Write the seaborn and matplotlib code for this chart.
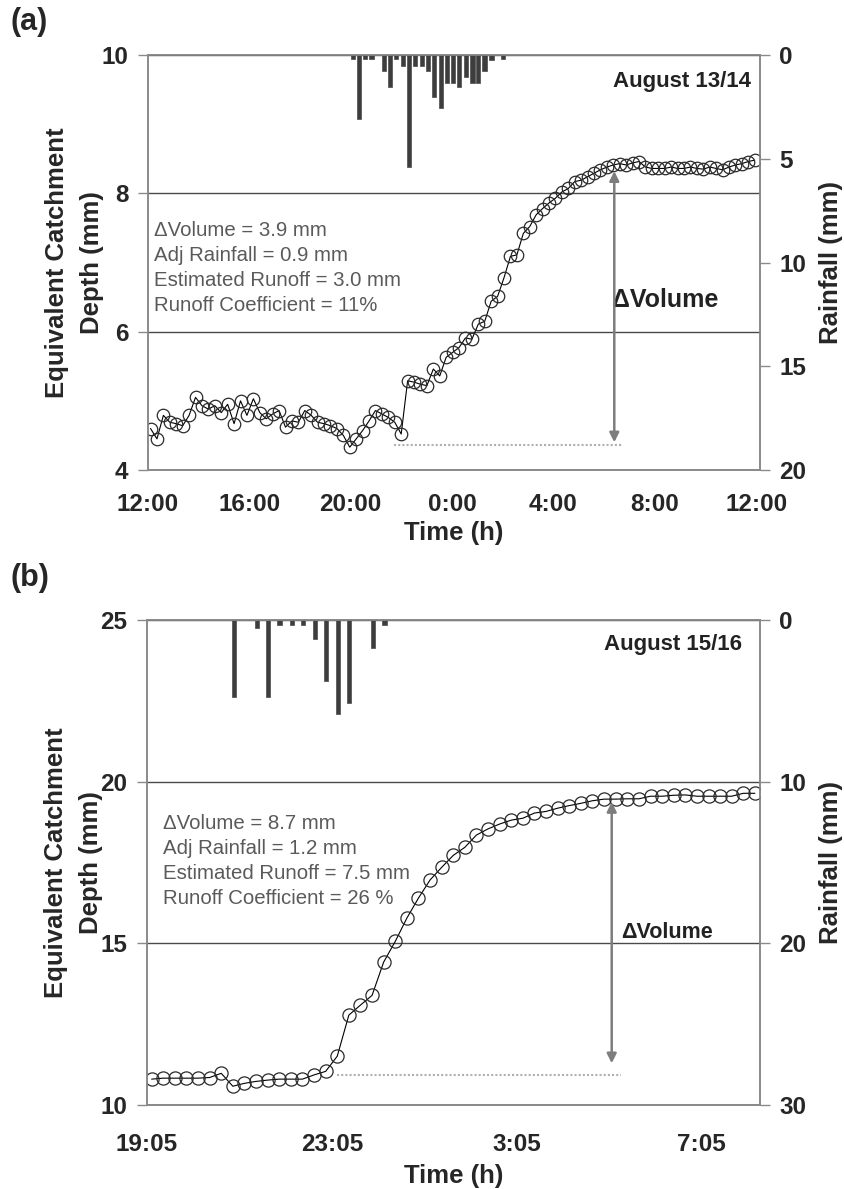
import numpy as np
import matplotlib
matplotlib.use("Agg")
import matplotlib.pyplot as plt
import seaborn as sns

# ---------------- data: panel (a) August 13/14 (hours after 12:00) ----------------
depth_a = [4.60, 4.45, 4.79, 4.69, 4.67, 4.64, 4.79, 5.05, 4.93, 4.88,
           4.93, 4.83, 4.95, 4.67, 5.00, 4.79, 5.03, 4.83, 4.74, 4.81,
           4.86, 4.62, 4.71, 4.69, 4.86, 4.79, 4.69, 4.67, 4.64, 4.60,
           4.50, 4.33, 4.45, 4.57, 4.71, 4.86, 4.81, 4.76, 4.69, 4.52,
           5.29, 5.27, 5.24, 5.22, 5.46, 5.36, 5.63, 5.70, 5.77, 5.91,
           5.89, 6.11, 6.15, 6.44, 6.51, 6.78, 7.09, 7.11, 7.42, 7.52,
           7.69, 7.78, 7.86, 7.93, 8.02, 8.07, 8.17, 8.19, 8.24, 8.29,
           8.34, 8.38, 8.41, 8.43, 8.41, 8.44, 8.46, 8.38, 8.36, 8.36,
           8.36, 8.38, 8.36, 8.36, 8.38, 8.36, 8.35, 8.38, 8.36, 8.34,
           8.38, 8.41, 8.43, 8.46, 8.48]
time_a_start, time_a_end = 0.10, 23.94
rain_time_a = [8.08, 8.32, 8.56, 8.82, 9.30, 9.56, 9.78, 10.06, 10.30, 10.54,
               10.80, 11.05, 11.29, 11.55, 11.81, 12.04, 12.28, 12.54, 12.80,
               13.03, 13.28, 13.56, 14.02]
rain_a = [0.20, 3.07, 0.20, 0.20, 0.77, 1.53, 0.20, 0.53, 5.40, 0.53,
          0.53, 0.77, 2.02, 2.57, 1.33, 1.33, 1.53, 1.06, 1.33, 1.33,
          0.77, 0.25, 0.20]
xticks_a = [0, 4, 8, 12, 16, 20, 24]
xticklabels_a = ["12:00", "16:00", "20:00", "0:00", "4:00", "8:00", "12:00"]
text_a = ["\u0394Volume = 3.9 mm", "Adj Rainfall = 0.9 mm",
          "Estimated Runoff = 3.0 mm", "Runoff Coefficient = 11%"]
date_a = "August 13/14"

# ---------------- data: panel (b) August 15/16 (hours after 19:05) ----------------
depth_b = [10.80, 10.83, 10.83, 10.83, 10.83, 10.85, 10.98, 10.58, 10.67, 10.73,
           10.77, 10.80, 10.80, 10.80, 10.93, 11.04, 11.51, 12.78, 13.09, 13.39,
           14.42, 15.06, 15.78, 16.40, 16.96, 17.35, 17.72, 17.97, 18.35, 18.54,
           18.69, 18.81, 18.87, 19.03, 19.08, 19.18, 19.26, 19.33, 19.41, 19.46,
           19.46, 19.47, 19.47, 19.55, 19.55, 19.58, 19.59, 19.55, 19.55, 19.55,
           19.55, 19.64, 19.64]
time_b_start, time_b_end = 0.10, 13.16
rain_time_b = [1.88, 2.38, 2.62, 2.87, 3.14, 3.38, 3.63, 3.88, 4.14, 4.38, 4.89, 5.14]
rain_b = [4.76, 0.47, 4.76, 0.31, 0.31, 0.31, 1.20, 3.77, 5.79, 5.15, 1.75, 0.31]
xticks_b = [0, 4, 8, 12]
xticklabels_b = ["19:05", "23:05", "3:05", "7:05"]
text_b = ["\u0394Volume = 8.7 mm", "Adj Rainfall = 1.2 mm",
          "Estimated Runoff = 7.5 mm", "Runoff Coefficient = 26 %"]
date_b = "August 15/16"

# --------------------------------------------------------------------------------
sns.set_theme(style="white")
plt.rcParams["font.family"] = ["Liberation Sans", "DejaVu Sans"]

W, H = 844, 1189
fig = plt.figure(figsize=(W / 100, H / 100), dpi=100)

SPINE = "#8a8a8a"
GRID = "#4a4a4a"
TXT = "#5a5a5a"
TICK_FS = 17.5
LABEL_FS = 18.5


def panel(rect, times, depth, rtimes, rain, bar_w, xlim, xticks, xtl, ylim, yticks,
          rlim, rticks, lines, date, arrow_x, arrow_y, base_x, base_y,
          msize, xpad, xlabel_y, txt_pos, date_pos, dv_pos, dv_fs):
    ax = fig.add_axes(rect)
    ax2 = ax.twinx()
    ax.set_zorder(2)
    ax.patch.set_visible(False)
    ax2.set_zorder(1)

    # rainfall hanging bars
    ax2.bar(rtimes, rain, width=bar_w, color="#3d3d3d", edgecolor="#5a5a5a",
            linewidth=0.6, align="center")
    ax2.set_ylim(*rlim)
    ax2.set_yticks(rticks)
    ax2.set_yticklabels([str(v) for v in rticks], fontsize=TICK_FS, fontweight="bold")
    ax2.tick_params(axis="y", direction="out", length=7, width=1, color=SPINE, pad=7)
    ax2.set_ylabel("Rainfall (mm)", fontsize=LABEL_FS, fontweight="bold")
    ax2.yaxis.set_label_coords(1.097, 0.5)

    # catchment depth series
    sns.lineplot(x=times, y=depth, ax=ax, color="black", linewidth=0.8,
                 marker="o", markersize=msize, markerfacecolor="none",
                 markeredgecolor="#2a2a2a", markeredgewidth=0.9)
    ax.set_xlim(*xlim)
    ax.set_ylim(*ylim)
    ax.set_yticks(yticks)
    ax.set_yticklabels([str(v) for v in yticks], fontsize=TICK_FS, fontweight="bold")
    ax.set_xticks(xticks)
    ax.set_xticklabels(xtl, fontsize=TICK_FS, fontweight="bold")
    ax.tick_params(axis="x", direction="inout", length=11, width=1, color=SPINE, pad=xpad)
    ax.tick_params(axis="y", direction="out", length=7, width=1, color=SPINE, pad=7)
    ax.yaxis.grid(True, color=GRID, linewidth=1)
    ax.xaxis.grid(False)
    for a in (ax, ax2):
        for s in a.spines.values():
            s.set_color(SPINE)
            s.set_linewidth(1.2)
            s.set_visible(True)
    ax.set_ylabel("Equivalent Catchment\nDepth (mm)", fontsize=LABEL_FS,
                  fontweight="bold", linespacing=1.55)
    ax.yaxis.set_label_coords(-0.072, 0.5)
    ax.set_xlabel("Time (h)", fontsize=LABEL_FS, fontweight="bold")
    ax.xaxis.set_label_coords(0.5, xlabel_y)

    # annotations
    ax.text(txt_pos[0], txt_pos[1], "\n".join(lines), transform=ax.transAxes,
            ha="left", va="top", fontsize=14.7, color=TXT, linespacing=1.4)
    ax.text(date_pos[0], date_pos[1], date, transform=ax.transAxes, ha="right",
            va="center", fontsize=16, fontweight="bold", color="#222222")
    ax.text(dv_pos[0], dv_pos[1], "\u0394Volume", transform=ax.transAxes, ha="left",
            va="center", fontsize=dv_fs, fontweight="bold", color="#222222")
    ax.plot(base_x, base_y, linestyle=(0, (1, 1)), color="#b0b0b0", linewidth=1.5,
            zorder=1)
    ax.annotate("", xy=(arrow_x, arrow_y[1]), xytext=(arrow_x, arrow_y[0]),
                arrowprops=dict(arrowstyle="<|-|>", color="#7d7d7d", lw=1.8,
                                mutation_scale=14, shrinkA=0, shrinkB=0))
    return ax


times_a = np.linspace(time_a_start, time_a_end, len(depth_a))
times_b = np.linspace(time_b_start, time_b_end, len(depth_b))

panel([148 / W, 1 - 470 / H, 612 / W, 415 / H], times_a, depth_a, rain_time_a, rain_a,
      0.17, (0, 24.15), xticks_a, xticklabels_a, (4, 10), [4, 6, 8, 10],
      (20, 0), [0, 5, 10, 15, 20], text_a, date_a,
      18.4, (4.40, 8.32), [9.7, 18.7], [4.36, 4.36], 9,
      11, -0.123, (0.010, 0.600), (0.985, 0.937), (0.758, 0.41), 18)

panel([147 / W, 1 - 1105 / H, 613 / W, 485 / H], times_b, depth_b, rain_time_b, rain_b,
      0.09, (0, 13.27), xticks_b, xticklabels_b, (10, 25), [10, 15, 20, 25],
      (30, 0), [0, 10, 20, 30], text_b, date_b,
      10.06, (11.29, 19.37), [4.12, 10.27], [10.93, 10.93], 9.5,
      15, -0.121, (0.026, 0.600), (0.97, 0.95), (0.773, 0.355), 15.5)

fig.text(10 / W, 1 - 22 / H, "(a)", fontsize=22, fontweight="bold", va="center")
fig.text(10 / W, 1 - 578 / H, "(b)", fontsize=22, fontweight="bold", va="center")

fig.savefig("out.png", dpi=100)
